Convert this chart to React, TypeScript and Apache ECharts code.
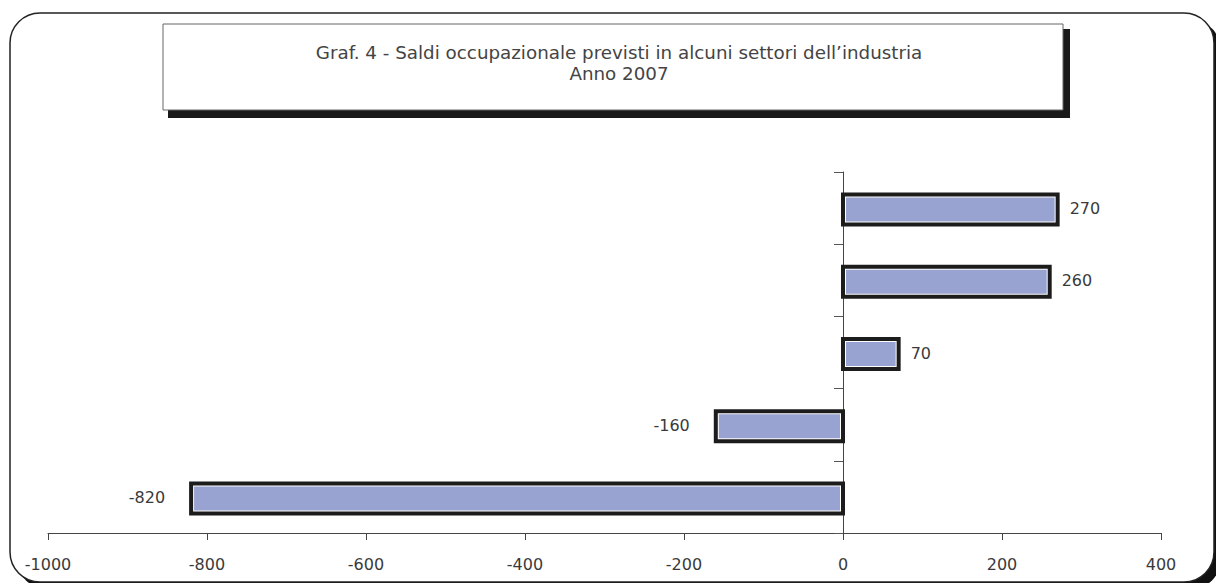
import React, { useEffect, useRef } from "react";
import * as echarts from "echarts";

// Sectors (top to bottom) and their expected employment balance, 2007
const sectors = ["Settore 1", "Settore 2", "Settore 3", "Settore 4", "Settore 5"];
const saldi = [270, 260, 70, -160, -820];

// Value-axis range and step
const xMin = -1000;
const xMax = 400;
const xStep = 200;

const titleLine1 = "Graf. 4 - Saldi occupazionale previsti in alcuni settori dell\u2019industria";
const titleLine2 = "Anno 2007";

const FONT = "'DejaVu Sans', 'Liberation Sans', Arial, sans-serif";
const TEXT = "#3a3a3a";
const BAR_FILL = "#99a3d1";

export default function App() {
  const ref = useRef<HTMLDivElement>(null);

  useEffect(() => {
    if (!ref.current) return;
    const chart = echarts.init(ref.current, null, { renderer: "svg" });

    const barData = saldi.map((v, i) => [v, i]);

    const option = {
      animation: false,
      backgroundColor: "#ffffff",
      textStyle: { fontFamily: FONT },
      grid: { left: 48, right: 55, top: 172, height: 361, containLabel: false },
      xAxis: {
        type: "value",
        min: xMin,
        max: xMax,
        interval: xStep,
        position: "bottom",
        splitLine: { show: false },
        axisLine: { show: true, onZero: false, lineStyle: { color: "#444", width: 1 } },
        axisTick: { show: true, length: 7, lineStyle: { color: "#444" } },
        axisLabel: {
          color: TEXT,
          fontSize: 16,
          fontFamily: FONT,
          margin: 23,
          formatter: (v: number) => String(v),
        },
      },
      yAxis: {
        type: "category",
        data: sectors,
        inverse: true,
        axisLine: { show: true, onZero: true, lineStyle: { color: "#444", width: 1 } },
        axisTick: { show: true, length: 9, lineStyle: { color: "#555" } },
        axisLabel: { show: false },
        splitLine: { show: false },
      },
      graphic: [
        // outer rounded frame with its shadow
        {
          type: "rect",
          z: -20,
          shape: { x: 17, y: 20, width: 1204, height: 569, r: 30 },
          style: { fill: "#111" },
          silent: true,
        },
        {
          type: "rect",
          z: -19,
          shape: { x: 10, y: 13, width: 1204, height: 569, r: 30 },
          style: { fill: "#fff", stroke: "#222", lineWidth: 1.5 },
          silent: true,
        },
        // title box with drop shadow
        {
          type: "rect",
          z: -18,
          shape: { x: 168, y: 29, width: 902, height: 89 },
          style: { fill: "#1a1a1a" },
          silent: true,
        },
        {
          type: "rect",
          z: -17,
          shape: { x: 163, y: 24, width: 900, height: 86 },
          style: { fill: "#fff", stroke: "#666", lineWidth: 1 },
          silent: true,
        },
        {
          type: "text",
          z: -16,
          style: {
            x: 619,
            y: 52,
            text: titleLine1,
            fill: "#444",
            font: `18.3px ${FONT}`,
            textAlign: "center",
            textVerticalAlign: "middle",
          },
          silent: true,
        },
        {
          type: "text",
          z: -16,
          style: {
            x: 619,
            y: 73,
            text: titleLine2,
            fill: "#444",
            font: `18.3px ${FONT}`,
            textAlign: "center",
            textVerticalAlign: "middle",
          },
          silent: true,
        },
      ],
      series: [
        {
          type: "custom",
          z: 5,
          encode: { x: 0, y: 1 },
          data: barData,
          renderItem: (params: any, api: any) => {
            const v = api.value(0) as number;
            const idx = api.value(1) as number;
            const p0 = api.coord([0, idx]);
            const p1 = api.coord([v, idx]);
            const band = api.size([0, 1])[1];
            const h = band * 0.415;
            const xa = Math.min(p0[0], p1[0]);
            const xb = Math.max(p0[0], p1[0]);
            const yc = p0[1] + 1.5;
            const positive = v >= 0;
            return {
              type: "group",
              children: [
                {
                  type: "rect",
                  shape: { x: xa - 2, y: yc - h / 2 - 2, width: xb - xa + 4, height: h + 4 },
                  style: { fill: "#1c1c1c" },
                },
                {
                  type: "rect",
                  shape: { x: xa + 2, y: yc - h / 2 + 2, width: xb - xa - 4, height: h - 4 },
                  style: { fill: "#ffffff" },
                },
                {
                  type: "rect",
                  shape: { x: xa + 3, y: yc - h / 2 + 3, width: xb - xa - 6, height: h - 6 },
                  style: { fill: BAR_FILL },
                },
                {
                  type: "text",
                  style: {
                    x: positive ? xb + 12 : xa - 26,
                    y: yc - 1,
                    text: String(v),
                    fill: TEXT,
                    font: `16px ${FONT}`,
                    textAlign: positive ? "left" : "right",
                    textVerticalAlign: "middle",
                  },
                },
              ],
            };
          },
        },
      ],
    };

    chart.setOption(option as any);
    return () => chart.dispose();
  }, []);

  return (
    <div
      ref={ref}
      style={{ position: "fixed", left: 0, top: 0, width: 1216, height: 583 }}
    />
  );
}
